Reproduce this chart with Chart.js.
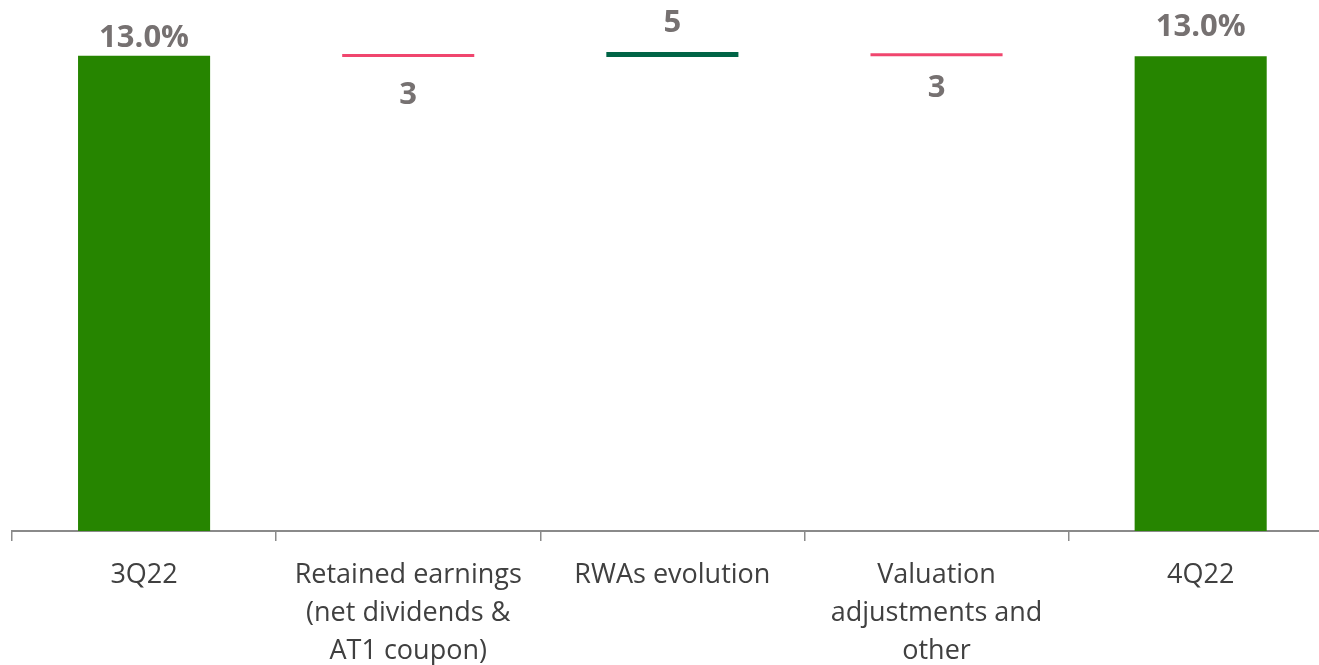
<!DOCTYPE html>
<html>
<head>
<meta charset="utf-8">
<script src="https://cdn.jsdelivr.net/npm/chart.js@4.4.0/dist/chart.umd.min.js"></script>
<style>
  html, body { margin: 0; padding: 0; overflow: hidden; background: #fff; }
  #wrap { width: 1340px; height: 665px; }
</style>
</head>
<body>
<div id="wrap"><canvas id="cet1Chart"></canvas></div>
<script>
// CET1 ratio bridge, 3Q22 -> 4Q22
var categories = [
  '3Q22',
  ['Retained earnings', '(net dividends &', 'AT1 coupon)'],
  'RWAs evolution',
  ['Valuation', 'adjustments and', 'other'],
  '4Q22'
];
var totalValues = [13.0, null, null, null, 12.99];   // CET1 %, start and end
var changeBp = [null, -3, 5, -3, null];              // movements in basis points

var colors = {
  total: '#268500',
  down: '#F0466E',
  up: '#006446',
  label: '#767171',
  axis: '#8a8a8a',
  text: '#404040'
};

// build the floating bars from the running level
var downData = [], upData = [];
var level = totalValues[0];
for (var i = 0; i < categories.length; i++) {
  downData.push(null);
  upData.push(null);
  if (changeBp[i] !== null) {
    var next = level + changeBp[i] / 100;
    if (changeBp[i] < 0) downData[i] = [next, level];
    else upData[i] = [level, next];
    level = next;
  }
}

var labelPlugin = {
  id: 'barLabels',
  afterDatasetsDraw: function(chart, args, opts) {
    var ctx = chart.ctx;
    ctx.save();
    ctx.font = 'bold 31px "Open Sans"';
    ctx.fillStyle = colors.label;
    ctx.textAlign = 'center';
    ctx.textBaseline = 'alphabetic';
    chart.data.datasets.forEach(function(ds, di) {
      var meta = chart.getDatasetMeta(di);
      meta.data.forEach(function(bar, idx) {
        if (ds.data[idx] === null) return;
        var p = bar.getProps(['x', 'y', 'base'], true);
        var top = Math.min(p.y, p.base), bottom = Math.max(p.y, p.base);
        var gap = opts.gaps[idx];
        var text, y;
        if (di === 0) {
          text = totalValues[idx].toFixed(1) + '%';
          y = top - gap;
        } else if (changeBp[idx] < 0) {
          text = String(Math.abs(changeBp[idx]));
          y = bottom + gap + 22;
        } else {
          text = String(changeBp[idx]);
          y = top - gap;
        }
        ctx.fillText(text, p.x, y);
      });
    });
    ctx.restore();
  }
};

new Chart(document.getElementById('cet1Chart'), {
  type: 'bar',
  data: {
    labels: categories,
    datasets: [
      { data: totalValues, backgroundColor: colors.total, grouped: false },
      { data: downData, backgroundColor: colors.down, grouped: false, minBarLength: 3 },
      { data: upData, backgroundColor: colors.up, grouped: false, minBarLength: 5 }
    ]
  },
  options: {
    responsive: true,
    maintainAspectRatio: false,
    animation: false,
    barPercentage: 0.5,
    categoryPercentage: 1.0,
    layout: { padding: { left: 12, right: 7.25, top: 1, bottom: 0 } },
    plugins: {
      legend: { display: false },
      tooltip: { enabled: false },
      barLabels: { gaps: [9, 25, 20, 19, 20] }
    },
    scales: {
      x: {
        grid: { offset: true, drawOnChartArea: false, drawTicks: true, tickLength: 10, color: colors.axis, lineWidth: 1.5 },
        border: { display: true, color: colors.axis, width: 2 },
        ticks: {
          color: colors.text,
          font: { family: 'Open Sans', size: 27, lineHeight: 1.41 },
          padding: 15,
          maxRotation: 0,
          autoSkip: false
        },
        afterFit: function(scale) { scale.height = 134; }
      },
      y: {
        display: false,
        min: 0,
        max: 14.5
      }
    }
  },
  plugins: [labelPlugin]
});
</script>
</body>
</html>
